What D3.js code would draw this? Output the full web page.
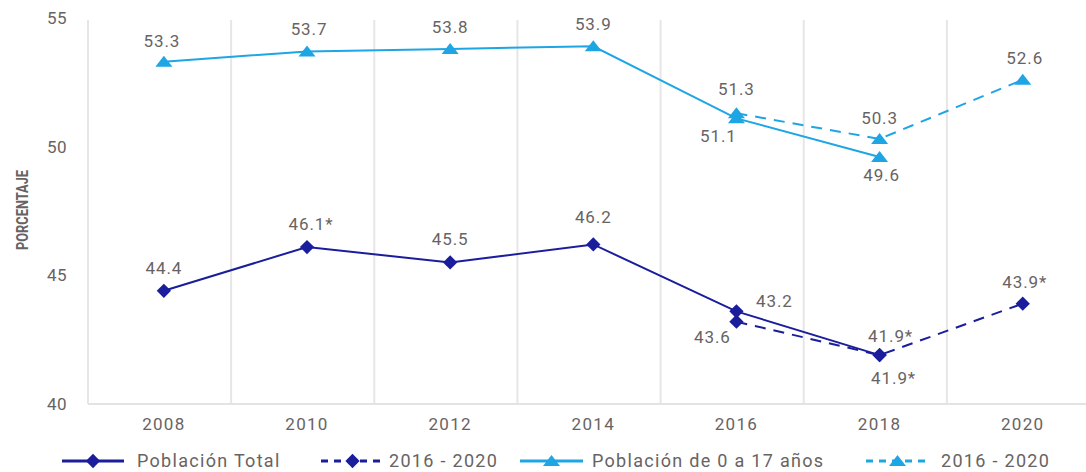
<!DOCTYPE html>
<html>
<head>
<meta charset="utf-8">
<script src="https://cdn.jsdelivr.net/npm/d3@7"></script>
<style>
  body { margin: 0; background: #fff; }
  text { font-family: Roboto, "Noto Sans", sans-serif; fill: #686363; }
</style>
</head>
<body>
<svg id="chart" width="1086" height="472"></svg>
<script>
const years = ["2008", "2010", "2012", "2014", "2016", "2018", "2020"];
const yTicks = [40, 45, 50, 55];

// Población Total
const totalSolid = [
  { year: "2008", value: 44.4, label: "44.4", dx: 0, dy: -23 },
  { year: "2010", value: 46.1, label: "46.1*", dx: 4, dy: -23 },
  { year: "2012", value: 45.5, label: "45.5", dx: 0, dy: -23 },
  { year: "2014", value: 46.2, label: "46.2", dx: 0, dy: -27 },
  { year: "2016", value: 43.6, label: "43.6", dx: -24, dy: 26 },
  { year: "2018", value: 41.9, label: "41.9*", dx: 14, dy: 23 }
];
const totalDashed = [
  { year: "2016", value: 43.2, label: "43.2", dx: 38, dy: -21 },
  { year: "2018", value: 41.9, label: "41.9*", dx: 11, dy: -19 },
  { year: "2020", value: 43.9, label: "43.9*", dx: 2, dy: -22 }
];

// Población de 0 a 17 años
const childSolid = [
  { year: "2008", value: 53.3, label: "53.3", dx: -2, dy: -21 },
  { year: "2010", value: 53.7, label: "53.7", dx: 2, dy: -22 },
  { year: "2012", value: 53.8, label: "53.8", dx: 0, dy: -22 },
  { year: "2014", value: 53.9, label: "53.9", dx: 0, dy: -22 },
  { year: "2016", value: 51.1, label: "51.1", dx: -18, dy: 18 },
  { year: "2018", value: 49.6, label: "49.6", dx: 2, dy: 18 }
];
const childDashed = [
  { year: "2016", value: 51.3, label: "51.3", dx: 0, dy: -24 },
  { year: "2018", value: 50.3, label: "50.3", dx: 0, dy: -21 },
  { year: "2020", value: 52.6, label: "52.6", dx: 2, dy: -22 }
];

const DARK = "#1a1d9c";
const LIGHT = "#1ea5e4";

const svg = d3.select("#chart");

const x = d3.scaleBand().domain(years).range([88, 1090]).paddingInner(0).paddingOuter(0);
const xp = (d) => x(d) + x.bandwidth() * 0.53;
const y = d3.scaleLinear().domain([40, 55]).range([404, 18]);

// vertical gridlines at band edges
svg.append("g")
  .selectAll("line")
  .data(years)
  .join("line")
  .attr("x1", (d) => x(d))
  .attr("x2", (d) => x(d))
  .attr("y1", y(55) + 2)
  .attr("y2", y(40))
  .attr("stroke", "#e6e6e6")
  .attr("stroke-width", 2);

// baseline
svg.append("line")
  .attr("x1", 88)
  .attr("x2", 1086)
  .attr("y1", y(40))
  .attr("y2", y(40))
  .attr("stroke", "#e3e3e3")
  .attr("stroke-width", 2);

// y tick labels
svg.append("g")
  .selectAll("text")
  .data(yTicks)
  .join("text")
  .attr("x", 67)
  .attr("y", (d) => y(d))
  .attr("dy", "0.35em")
  .attr("text-anchor", "end")
  .attr("font-size", 17)
  .attr("letter-spacing", 0.5)
  .text((d) => d);

// x tick labels
svg.append("g")
  .selectAll("text")
  .data(years)
  .join("text")
  .attr("x", (d) => xp(d))
  .attr("y", 424)
  .attr("dy", "0.35em")
  .attr("text-anchor", "middle")
  .attr("font-size", 17)
  .attr("letter-spacing", 1.3)
  .text((d) => d);

// axis title
svg.append("text")
  .attr("transform", "translate(28,210) rotate(-90)")
  .attr("text-anchor", "middle")
  .attr("font-family", "'Liberation Sans Narrow', 'DejaVu Sans Condensed', sans-serif")
  .attr("font-weight", "bold")
  .attr("font-size", 17)
  .attr("textLength", 80)
  .attr("lengthAdjust", "spacingAndGlyphs")
  .text("PORCENTAJE");

const line = d3.line().x((d) => xp(d.year)).y((d) => y(d.value));

const diamond = d3.symbol().type(d3.symbolDiamond2).size(130);
const triangle = "M0,-6 L8.5,5 L-8.5,5 Z";

function drawSeries(data, color, dashed, marker) {
  const g = svg.append("g");
  g.append("path")
    .datum(data)
    .attr("d", line)
    .attr("fill", "none")
    .attr("stroke", color)
    .attr("stroke-width", 2)
    .attr("stroke-dasharray", dashed ? "11,8" : null);
  g.selectAll("path.m")
    .data(data)
    .join("path")
    .attr("class", "m")
    .attr("transform", (d) => `translate(${xp(d.year)},${y(d.value)})`)
    .attr("d", marker === "diamond" ? diamond() : triangle)
    .attr("fill", color);
  g.selectAll("text")
    .data(data)
    .join("text")
    .attr("x", (d) => xp(d.year) + d.dx)
    .attr("y", (d) => y(d.value) + d.dy)
    .attr("dy", "0.35em")
    .attr("text-anchor", "middle")
    .attr("font-size", 17)
    .attr("letter-spacing", 0.9)
    .text((d) => d.label);
}

drawSeries(childSolid, LIGHT, false, "triangle");
drawSeries(childDashed, LIGHT, true, "triangle");
drawSeries(totalSolid, DARK, false, "diamond");
drawSeries(totalDashed, DARK, true, "diamond");

// legend
const legendItems = [
  { label: "Población Total", color: DARK, dashed: false, marker: "diamond", x0: 62, x1: 124, tx: 137 },
  { label: "2016 - 2020", color: DARK, dashed: true, marker: "diamond", x0: 321, x1: 384, tx: 389 },
  { label: "Población de 0 a 17 años", color: LIGHT, dashed: false, marker: "triangle", x0: 520, x1: 583, tx: 592 },
  { label: "2016 - 2020", color: LIGHT, dashed: true, marker: "triangle", x0: 866, x1: 929, tx: 941 }
];
const ly = 461;
const leg = svg.append("g")
  .selectAll("g")
  .data(legendItems)
  .join("g");
leg.append("line")
  .attr("x1", (d) => d.x0)
  .attr("x2", (d) => d.x1)
  .attr("y1", ly)
  .attr("y2", ly)
  .attr("stroke", (d) => d.color)
  .attr("stroke-width", 3)
  .attr("stroke-dasharray", (d) => (d.dashed ? "7,6" : null));
leg.append("path")
  .attr("transform", (d) => `translate(${(d.x0 + d.x1) / 2},${ly})`)
  .attr("d", (d) => (d.marker === "diamond" ? diamond() : triangle))
  .attr("fill", (d) => d.color);
leg.append("text")
  .attr("x", (d) => d.tx)
  .attr("y", ly)
  .attr("dy", "0.35em")
  .attr("font-size", 18)
  .attr("letter-spacing", 1.3)
  .text((d) => d.label);
</script>
</body>
</html>
